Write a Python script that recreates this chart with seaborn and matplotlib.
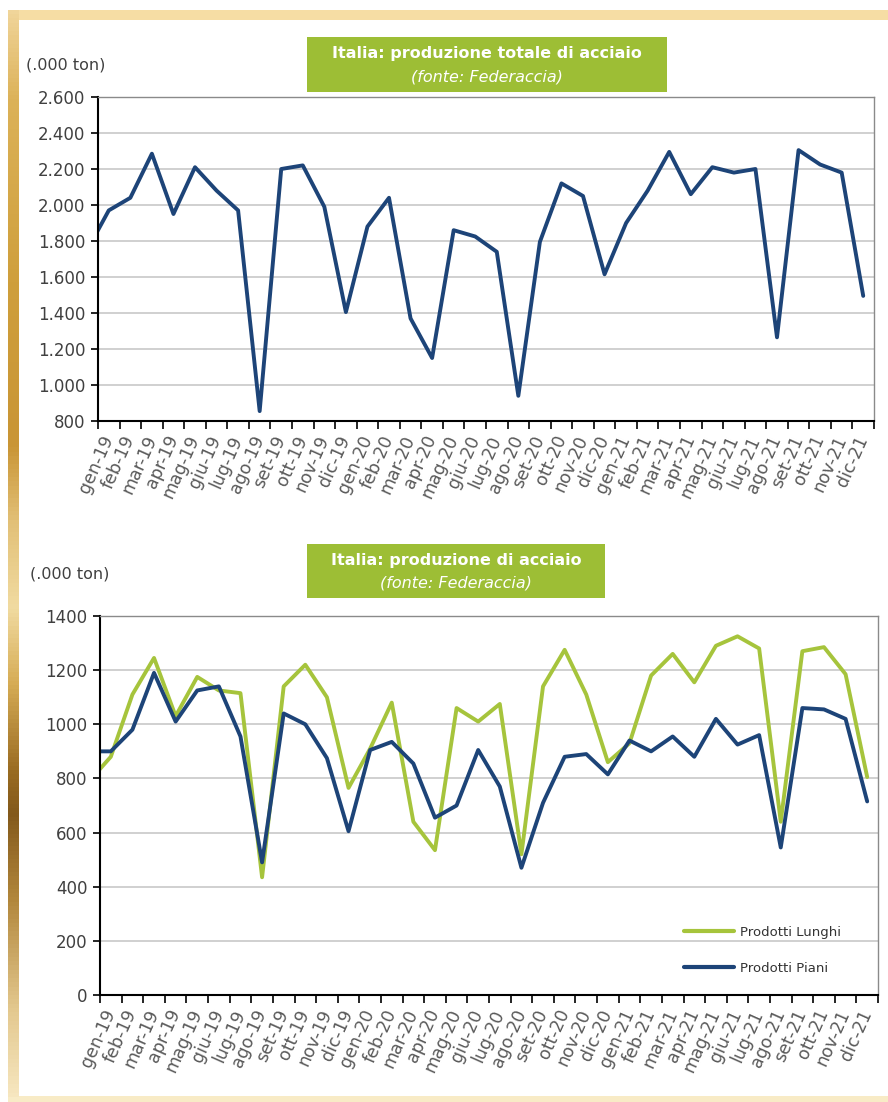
import matplotlib
matplotlib.use("Agg")
import matplotlib.pyplot as plt
from matplotlib.patches import Rectangle
from matplotlib.lines import Line2D
from matplotlib.ticker import FixedLocator
import numpy as np
import pandas as pd
import seaborn as sns

# --- data ---
months = ["gen", "feb", "mar", "apr", "mag", "giu", "lug", "ago", "set", "ott", "nov", "dic"]
years = ["19", "20", "21"]
x_labels = [f"{m}-{y}" for y in years for m in months]

# first value = dic-18, only partly visible at the left edge
totale = [1750,
          1970, 2040, 2285, 1950, 2210, 2080, 1970, 855, 2200, 2220, 1990, 1405,
          1880, 2040, 1370, 1150, 1860, 1825, 1740, 940, 1795, 2120, 2050, 1615,
          1900, 2080, 2295, 2060, 2210, 2180, 2200, 1265, 2305, 2225, 2180, 1495]
lunghi = [790,
          880, 1110, 1245, 1030, 1175, 1125, 1115, 435, 1140, 1220, 1100, 765,
          910, 1080, 640, 535, 1060, 1010, 1075, 520, 1140, 1275, 1110, 860,
          930, 1180, 1260, 1155, 1290, 1325, 1280, 640, 1270, 1285, 1185, 805]
piani = [900,
         900, 980, 1190, 1010, 1125, 1140, 955, 490, 1040, 1000, 875, 605,
         905, 935, 855, 655, 700, 905, 770, 470, 710, 880, 890, 815,
         940, 900, 955, 880, 1020, 925, 960, 545, 1060, 1055, 1020, 715]
x_pos = list(range(-1, 36))

top_yticks = [800, 1000, 1200, 1400, 1600, 1800, 2000, 2200, 2400, 2600]
bot_yticks = [0, 200, 400, 600, 800, 1000, 1200, 1400]

NAVY = "#1d4478"
LIME = "#a6c43c"
BOX = "#9dbe35"
TXT = "#404040"

sns.set_style("white")
plt.rcParams["font.family"] = ["DejaVu Sans"]

W, H = 888, 1102
fig = plt.figure(figsize=(W / 100, H / 100), dpi=100)

# --- background frame ---
bg = fig.add_axes([0, 0, 1, 1], zorder=-5)
bg.set_xlim(0, W)
bg.set_ylim(H, 0)
bg.axis("off")
bg.add_patch(Rectangle((8, 10), W - 8, 10, color="#f6dda4", lw=0))
bg.add_patch(Rectangle((8, 1096), W - 8, 6, color="#f8ebc6", lw=0))
stops = [(0, "#f0d59a"), (0.08, "#dcb259"), (0.25, "#cf9f3c"), (0.40, "#c99535"),
         (0.47, "#e2c077"), (0.55, "#f1dba1"), (0.62, "#d6ac55"), (0.70, "#9a6c22"),
         (0.74, "#83591b"), (0.82, "#b2873c"), (0.92, "#e3c88e"), (1.0, "#f6e6bf")]
cmap = matplotlib.colors.LinearSegmentedColormap.from_list("gold", stops)
bg.imshow(np.linspace(0, 1, 256).reshape(-1, 1), cmap=cmap, aspect="auto",
          extent=[8, 18, 1097, 10], zorder=1)
bg.set_xlim(0, W)
bg.set_ylim(H, 0)


def title_box(x0, y0, w, h, line1, line2):
    bg.add_patch(Rectangle((x0, y0), w, h, color=BOX, lw=0, zorder=2))
    cx = x0 + w / 2
    bg.text(cx, y0 + h * 0.30, line1, color="white", fontsize=11.5, fontweight="bold",
            ha="center", va="center", zorder=3)
    bg.text(cx, y0 + h * 0.72, line2, color="white", fontsize=11.5, style="italic",
            ha="center", va="center", zorder=3)


title_box(307, 37, 360, 55, "Italia: produzione totale di acciaio", "(fonte: Federaccia)")
title_box(307, 544, 298, 54, "Italia: produzione di acciaio", "(fonte: Federaccia)")
bg.text(26, 65, "(.000 ton)", color=TXT, fontsize=11.5, ha="left", va="center")
bg.text(30, 574, "(.000 ton)", color=TXT, fontsize=11.5, ha="left", va="center")


def style_axis(ax, yticks, fmt):
    ax.set_xlim(-0.5, 35.5)
    ax.set_ylim(yticks[0], yticks[-1])
    ax.set_yticks(yticks)
    ax.set_yticklabels([fmt(v) for v in yticks])
    ax.yaxis.grid(True, color="#c4c4c4", lw=1.1)
    ax.set_axisbelow(True)
    for s in ["top", "right"]:
        ax.spines[s].set_color("#8a8a8a")
        ax.spines[s].set_linewidth(1)
    for s in ["left", "bottom"]:
        ax.spines[s].set_color("black")
        ax.spines[s].set_linewidth(1.5)
    ax.set_xticks(range(36))
    ax.set_xticklabels(x_labels, rotation=66, ha="right", va="center",
                       rotation_mode="anchor", color="#5a5a5a", fontsize=12.5)
    ax.xaxis.set_minor_locator(FixedLocator(np.arange(-0.5, 36, 1)))
    ax.tick_params(axis="x", which="major", length=0, pad=11)
    ax.tick_params(axis="x", which="minor", length=6, width=1.2, direction="out",
                   bottom=True, color="black")
    ax.tick_params(axis="y", length=5, width=1.2, direction="out", left=True,
                   color="black", labelcolor=TXT, labelsize=12, pad=4)
    ax.set_xlabel("")
    ax.set_ylabel("")


# --- top chart ---
ax1 = fig.add_axes([98 / W, 1 - 421 / H, 776 / W, 324 / H])
sns.lineplot(x=x_pos, y=totale, ax=ax1, color=NAVY, lw=2.8)
style_axis(ax1, top_yticks, lambda v: f"{v:,.0f}".replace(",", "."))

# --- bottom chart ---
df = pd.DataFrame({
    "x": x_pos * 2,
    "val": lunghi + piani,
    "serie": ["Prodotti Lunghi"] * len(x_pos) + ["Prodotti Piani"] * len(x_pos),
})
ax2 = fig.add_axes([100 / W, 1 - 995 / H, 778 / W, 379 / H])
sns.lineplot(data=df, x="x", y="val", hue="serie", ax=ax2,
             palette={"Prodotti Lunghi": LIME, "Prodotti Piani": NAVY}, lw=2.8, legend=False)
style_axis(ax2, bot_yticks, lambda v: f"{v}")

handles = [Line2D([], [], color=LIME, lw=3), Line2D([], [], color=NAVY, lw=3)]
ax2.legend(handles, ["Prodotti Lunghi", "Prodotti Piani"], loc="upper left",
           bbox_to_anchor=(677 / W, 1 - 919 / H), bbox_transform=fig.transFigure,
           frameon=False, fontsize=9.5, handlelength=3.8, handletextpad=0.45,
           labelspacing=1.75, borderpad=0, labelcolor="#333333")

fig.savefig("out.png", dpi=100, facecolor="white")
